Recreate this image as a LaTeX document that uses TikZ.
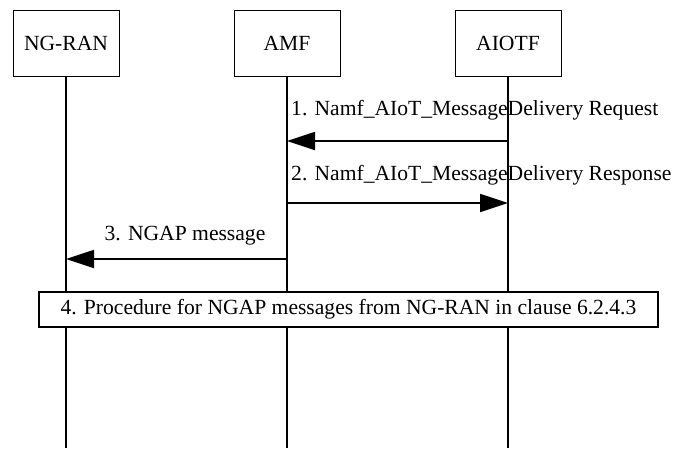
\documentclass[tikz,border=0pt]{standalone}
\usepackage{fontspec}
\setmainfont{Liberation Serif}
\usetikzlibrary{arrows.meta}
\begin{document}
\begin{tikzpicture}[x=1pt,y=-1pt,
  font=\fontsize{21.6}{25}\selectfont,
  entity/.style={draw,line width=1pt,minimum width=106pt,minimum height=66pt,inner sep=0pt},
  life/.style={line width=1.8pt},
  msg/.style={line width=1.8pt,-{Triangle[length=28pt,width=18pt]}},
  lbl/.style={inner sep=0pt},
  proc/.style={draw,line width=1.8pt,minimum width=619pt,minimum height=35pt,inner sep=0pt}]
\useasboundingbox (0,0) rectangle (673,448);
\node[entity] (ran) at (66,43) {NG-RAN};
\node[entity] (amf) at (287,43) {AMF};
\node[entity] (aiot) at (508,43) {AIOTF};
\coordinate (bot) at (0,448);
\draw[life] (ran.south) -- (ran.south |- bot);
\draw[life] (amf.south) -- (amf.south |- bot);
\draw[life] (aiot.south) -- (aiot.south |- bot);
\coordinate (m1) at (0,141);
\coordinate (m2) at (0,203);
\coordinate (m3) at (0,259);
\draw[msg] (aiot |- m1) -- (amf |- m1);
\draw[msg] (amf |- m2) -- (aiot |- m2);
\draw[msg] (amf |- m3) -- (ran |- m3);
\node[lbl,anchor=west] (l1) at (291,110) {1. Namf\_AIoT\_MessageDelivery Request};
\node[lbl,anchor=west] (l2) at (291,175) {2. Namf\_AIoT\_MessageDelivery Response};
\node[lbl] (l3) at (185,236) {3. NGAP message};
\node[proc,fill=white] (p4) at (348.5,309.5) {4. Procedure for NGAP messages from NG-RAN in clause 6.2.4.3};
\end{tikzpicture}
\end{document}
